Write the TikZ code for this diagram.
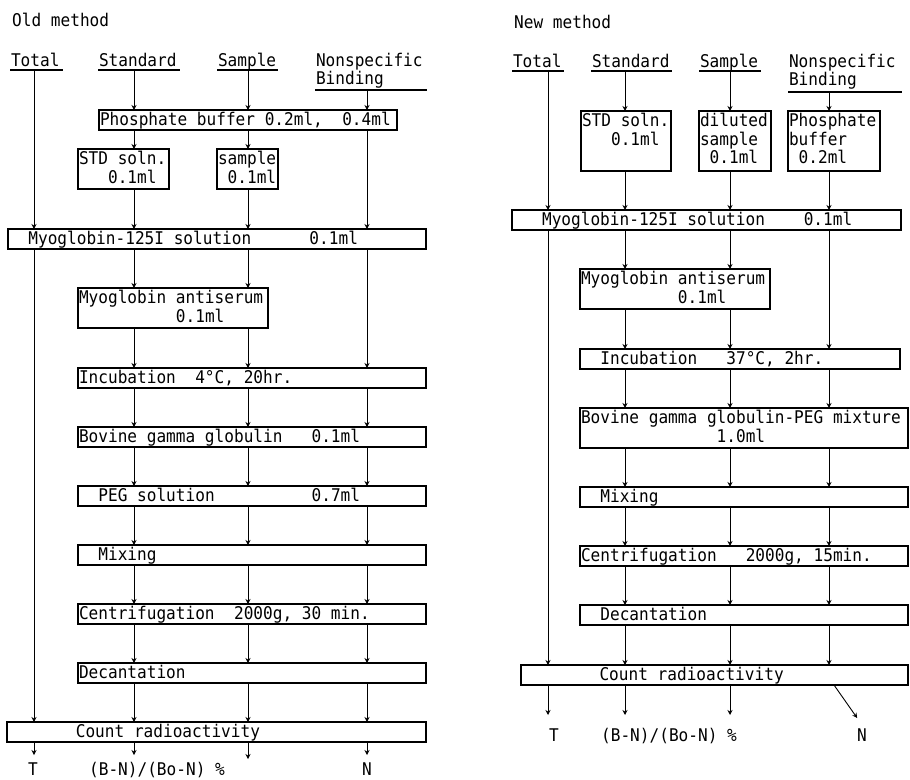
\documentclass[tikz,border=0pt]{standalone}
\usepackage{fontspec}
\newfontfamily\chartfont[FakeStretch=0.92]{DejaVu Sans Mono}
\usepackage{tikz}
\usetikzlibrary{arrows.meta,positioning}
\newcommand{\indentby}[1]{\hspace*{#1\fontcharwd\font 48}}
\newcommand{\fixedspaces}{\spaceskip=\fontcharwd\font 48\relax\xspaceskip=\spaceskip\relax}

\begin{document}
\begin{tikzpicture}[
    x=1pt, y=1pt,
    font=\chartfont\fontsize{17.5}{18.5}\selectfont,
    execute at begin node=\fixedspaces,
    box/.style={draw, line width=1.2pt, inner xsep=1pt, inner ysep=0pt, outer sep=0pt,
      text height=15.5pt, text depth=4.5pt, anchor=north west},
    box2/.style={box, text depth=24.5pt},
    box3/.style={box, text depth=44.5pt},
    head/.style={inner xsep=1pt, inner ysep=0pt, outer sep=0pt,
      text height=13pt, text depth=4pt, anchor=base west,
      append after command={(\tikzlastnode.south west) edge[line width=1.2pt] (\tikzlastnode.south east)}},
    heading/.style={inner sep=0pt, anchor=base west},
    outlbl/.style={inner sep=0pt, outer sep=0pt, text height=13pt, text depth=2pt, anchor=base},
    arr/.style={-{Stealth[length=5pt, width=5pt]}, line width=0.9pt}
]
\useasboundingbox (0,0) rectangle (910,-779);

% old method
\coordinate (oT) at (34,0);
\coordinate (oS) at (134,0);
\coordinate (oP) at (248,0);
\coordinate (oN) at (367,0);
\node[heading] (oTitle) at (12,-27) {Old method};
\node[head, text width=51pt] (oTot) at (10,-66) {Total};
\node[head, text width=80pt] (oStd) at (98,-66) {Standard};
\node[head, text width=59pt] (oSmp) at (217,-66) {Sample};
\node[head, text width=110pt, text depth=24pt] (oNsb) at (315,-66) {Nonspecific\\Binding};
\node[box, text width=296pt] (oBuf) at (99,-110) {Phosphate buffer 0.2ml,~~0.4ml};
\node[box2, text width=89pt] (oStdSol) at (78,-149) {STD soln.\\\indentby{3}0.1ml};
\node[box2, text width=59pt] (oSmpSol) at (217,-149) {sample\\\indentby{1}0.1ml};
\node[box, text width=416pt] (oMyo) at (8,-229) {\indentby{2}Myoglobin-125I solution~~~~~~0.1ml};
\node[box2, text width=188pt] (oAnti) at (78,-288) {Myoglobin antiserum\\\indentby{10}0.1ml};
\node[box, text width=346pt] (oInc) at (78,-368) {Incubation~~4°C, 20hr.};
\node[box, text width=346pt, below=39pt of oInc.south west, anchor=north west] (oBgg) {Bovine gamma globulin~~~0.1ml};
\node[box, text width=346pt, below=39pt of oBgg.south west, anchor=north west] (oPeg) {\indentby{2}PEG solution~~~~~~~~~~0.7ml};
\node[box, text width=346pt, below=39pt of oPeg.south west, anchor=north west] (oMix) {\indentby{2}Mixing};
\node[box, text width=346pt, below=39pt of oMix.south west, anchor=north west] (oCen) {Centrifugation~~2000g, 30 min.};
\node[box, text width=346pt, below=39pt of oCen.south west, anchor=north west] (oDec) {Decantation};
\node[box, text width=417pt] (oCnt) at (7,-722) {\indentby{7}Count radioactivity};
\node[outlbl] (oResT) at (33,-775) {T};
\node[outlbl] (oResB) at (157,-775) {(B-N)/(Bo-N) \%};
\node[outlbl] (oResN) at (367,-775) {N};
\coordinate (oEndP) at (248,-759);

\draw[arr] (oTot.south -| oT) -- (oMyo.north -| oT);
\draw[arr] (oMyo.south -| oT) -- (oCnt.north -| oT);
\foreach \a/\b/\c in {oStd/oBuf/oS, oSmp/oBuf/oP, oNsb/oBuf/oN, oBuf/oStdSol/oS, oBuf/oSmpSol/oP,
    oStdSol/oMyo/oS, oSmpSol/oMyo/oP, oBuf/oMyo/oN, oMyo/oAnti/oS, oMyo/oAnti/oP,
    oAnti/oInc/oS, oAnti/oInc/oP, oMyo/oInc/oN}
  \draw[arr] (\a.south -| \c) -- (\b.north -| \c);
\foreach \a/\b in {oInc/oBgg, oBgg/oPeg, oPeg/oMix, oMix/oCen, oCen/oDec, oDec/oCnt}
  \foreach \c in {oS,oP,oN}
    \draw[arr] (\a.south -| \c) -- (\b.north -| \c);
\draw[arr, shorten >=7pt] (oCnt.south -| oT) -- (oResT.north -| oT);
\draw[arr, shorten >=7pt] (oCnt.south -| oS) -- (oResB.north -| oS);
\draw[arr] (oCnt.south -| oP) -- (oEndP);
\draw[arr, shorten >=7pt] (oCnt.south -| oN) -- (oResN.north -| oN);

% new method
\coordinate (nT) at (548,0);
\coordinate (nS) at (625,0);
\coordinate (nP) at (730,0);
\coordinate (nN) at (829,0);
\coordinate (nNd) at (834,0);
\node[heading] (nTitle) at (514,-28) {New method};
\node[head, text width=50pt] (nTot) at (512,-67) {Total};
\node[head, text width=79pt] (nStd) at (591,-67) {Standard};
\node[head, text width=60pt] (nSmp) at (699,-67) {Sample};
\node[head, text width=112pt, text depth=25pt] (nNsb) at (788,-67) {Nonspecific\\Binding};
\node[box3, text width=88pt] (nStdSol) at (581,-111) {STD soln.\\\indentby{3}0.1ml};
\node[box3, text width=70pt] (nDil) at (699,-111) {diluted\\sample\\\indentby{1}0.1ml};
\node[box3, text width=90pt] (nBuf) at (788,-111) {Phosphate\\buffer\\\indentby{1}0.2ml};
\node[box, text width=387pt] (nMyo) at (512,-210) {\indentby{3}Myoglobin-125I solution~~~~0.1ml};
\node[box2, text width=188pt] (nAnti) at (580,-269) {Myoglobin antiserum\\\indentby{10}0.1ml};
\node[box, text width=318pt] (nInc) at (580,-349) {\indentby{2}Incubation~~~37°C, 2hr.};
\node[box2, text width=326pt, below=39pt of nInc.south west, anchor=north west] (nBgm) {Bovine gamma globulin-PEG mixture\\\indentby{14}1.0ml};
\node[box, text width=326pt, below=39pt of nBgm.south west, anchor=north west] (nMix) {\indentby{2}Mixing};
\node[box, text width=326pt, below=39pt of nMix.south west, anchor=north west] (nCen) {Centrifugation~~~2000g, 15min.};
\node[box, text width=326pt, below=39pt of nCen.south west, anchor=north west] (nDec) {\indentby{2}Decantation};
\node[box, text width=385pt] (nCnt) at (521,-665) {\indentby{8}Count radioactivity};
\node[outlbl] (nResT) at (554,-741) {T};
\node[outlbl] (nResB) at (669,-741) {(B-N)/(Bo-N) \%};
\node[outlbl] (nResN) at (862,-741) {N};

\draw[arr] (nTot.south -| nT) -- (nMyo.north -| nT);
\draw[arr] (nMyo.south -| nT) -- (nCnt.north -| nT);
\foreach \a/\b/\c in {nStd/nStdSol/nS, nSmp/nDil/nP, nNsb/nBuf/nN, nStdSol/nMyo/nS, nDil/nMyo/nP,
    nBuf/nMyo/nN, nMyo/nAnti/nS, nMyo/nAnti/nP, nAnti/nInc/nS, nAnti/nInc/nP, nMyo/nInc/nN}
  \draw[arr] (\a.south -| \c) -- (\b.north -| \c);
\foreach \a/\b in {nInc/nBgm, nBgm/nMix, nMix/nCen, nCen/nDec, nDec/nCnt}
  \foreach \c in {nS,nP,nN}
    \draw[arr] (\a.south -| \c) -- (\b.north -| \c);
\draw[arr, shorten >=13pt] (nCnt.south -| nT) -- (nResT.north -| nT);
\draw[arr, shorten >=13pt] (nCnt.south -| nS) -- (nResB.north -| nS);
\draw[arr, shorten >=13pt] (nCnt.south -| nP) -- (nResB.north -| nP);
\draw[arr] (nCnt.south -| nNd) -- ([yshift=10pt]nResN.north west);
\end{tikzpicture}
\end{document}
